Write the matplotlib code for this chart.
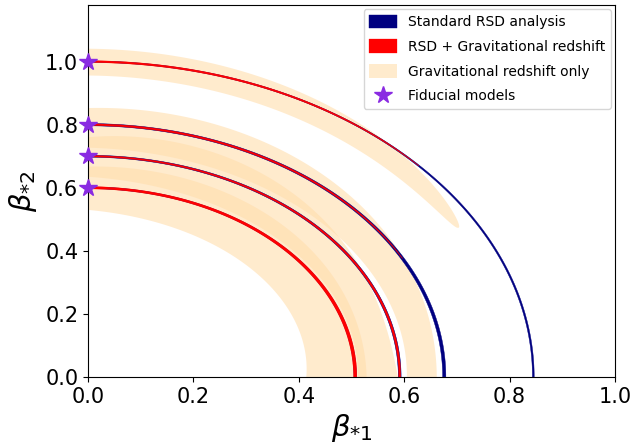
import numpy as np
import matplotlib
matplotlib.use('Agg')
import matplotlib.pyplot as plt

# fiducial models (beta_*1 = 0, beta_*2 = value)
fiducial_b2 = [0.6, 0.7, 0.8, 1.0]
axis_ratio = 0.845   # beta_*1 / beta_*2 semi-axis ratio of the degeneracy curves

# gravitational redshift only: band in elliptical radius, nodes at 0, 1/3, 2/3, 1 of the arc
grav_end_deg = [90, 90, 90, 60.4]
grav_center = [[0.9975, 0.9725, 0.946, 0.930],
               [0.9965, 0.979, 0.9375, 0.930],
               [0.9875, 0.975, 0.9505, 0.937],
               [0.9985, 0.989, 0.973, 0.957]]
grav_half = [[0.1145, 0.1275, 0.114, 0.113],
             [0.0895, 0.101, 0.0675, 0.064],
             [0.0785, 0.077, 0.0545, 0.042],
             [0.0425, 0.0425, 0.0425, 0.0425]]

# standard RSD and RSD + grav. redshift: thin bands
rsd_half = [0.0045, 0.0045, 0.0045, 0.002]
comb_half = [0.0062, 0.0033, 0.0036, 0.003]
comb_end_deg = [90, 90, 62, 48]

node_t = [0, 1/3, 2/3, 1]


def band(ax, b2, end_deg, center, half, taper, **kw):
    t = np.linspace(0, 1, 400)
    phi = np.radians(end_deg) * t
    c = np.polyval(np.polyfit(node_t, center, 3), t) if np.ndim(center) else center
    h = np.polyval(np.polyfit(node_t, half, 3), t) if np.ndim(half) else half * np.ones_like(t)
    if taper:
        h = h * np.sqrt(np.clip(1 - t**2, 0, 1))
    lo, hi = c - h, c + h
    a = axis_ratio * b2
    x = np.concatenate([a * hi * np.sin(phi), (a * lo * np.sin(phi))[::-1]])
    y = np.concatenate([b2 * hi * np.cos(phi), (b2 * lo * np.cos(phi))[::-1]])
    return ax.fill(x, y, **kw)


fig, ax = plt.subplots(figsize=(6.35, 4.44), dpi=100)
fig.subplots_adjust(left=0.1386, right=0.9685, top=0.989, bottom=0.151)

for i, b2 in enumerate(fiducial_b2):
    band(ax, b2, 90, 1.0, rsd_half[i], False, color='navy', lw=0.3, zorder=3,
         label='Standard RSD analysis' if i == 0 else None)
for i, b2 in enumerate(fiducial_b2):
    band(ax, b2, comb_end_deg[i], 1.0, comb_half[i], comb_end_deg[i] < 90,
         color='red', lw=0.2, zorder=4,
         label='RSD + Gravitational redshift' if i == 0 else None)
for i, b2 in enumerate(fiducial_b2):
    band(ax, b2, grav_end_deg[i], grav_center[i], grav_half[i], grav_end_deg[i] < 90,
         color='#FFDEAD', alpha=0.6, lw=0, zorder=2,
         label='Gravitational redshift only' if i == 0 else None)

ax.plot(np.zeros(len(fiducial_b2)), fiducial_b2, ls='none', marker='*', ms=13,
        color='blueviolet', clip_on=False, zorder=6, label='Fiducial models')

ax.set_xlim(0, 1)
ax.set_ylim(0, 1.18)
ax.set_xticks(np.arange(0, 1.01, 0.2))
ax.set_yticks(np.arange(0, 1.01, 0.2))
ax.tick_params(labelsize=15)
ax.set_xlabel(r'$\beta_{*1}$', fontsize=21)
ax.set_ylabel(r'$\beta_{*2}$', fontsize=21)
ax.legend(loc='upper right', fontsize=10, labelspacing=0.75, handleheight=1.1,
          borderaxespad=0.3)

fig.savefig('out.png', dpi=100)
